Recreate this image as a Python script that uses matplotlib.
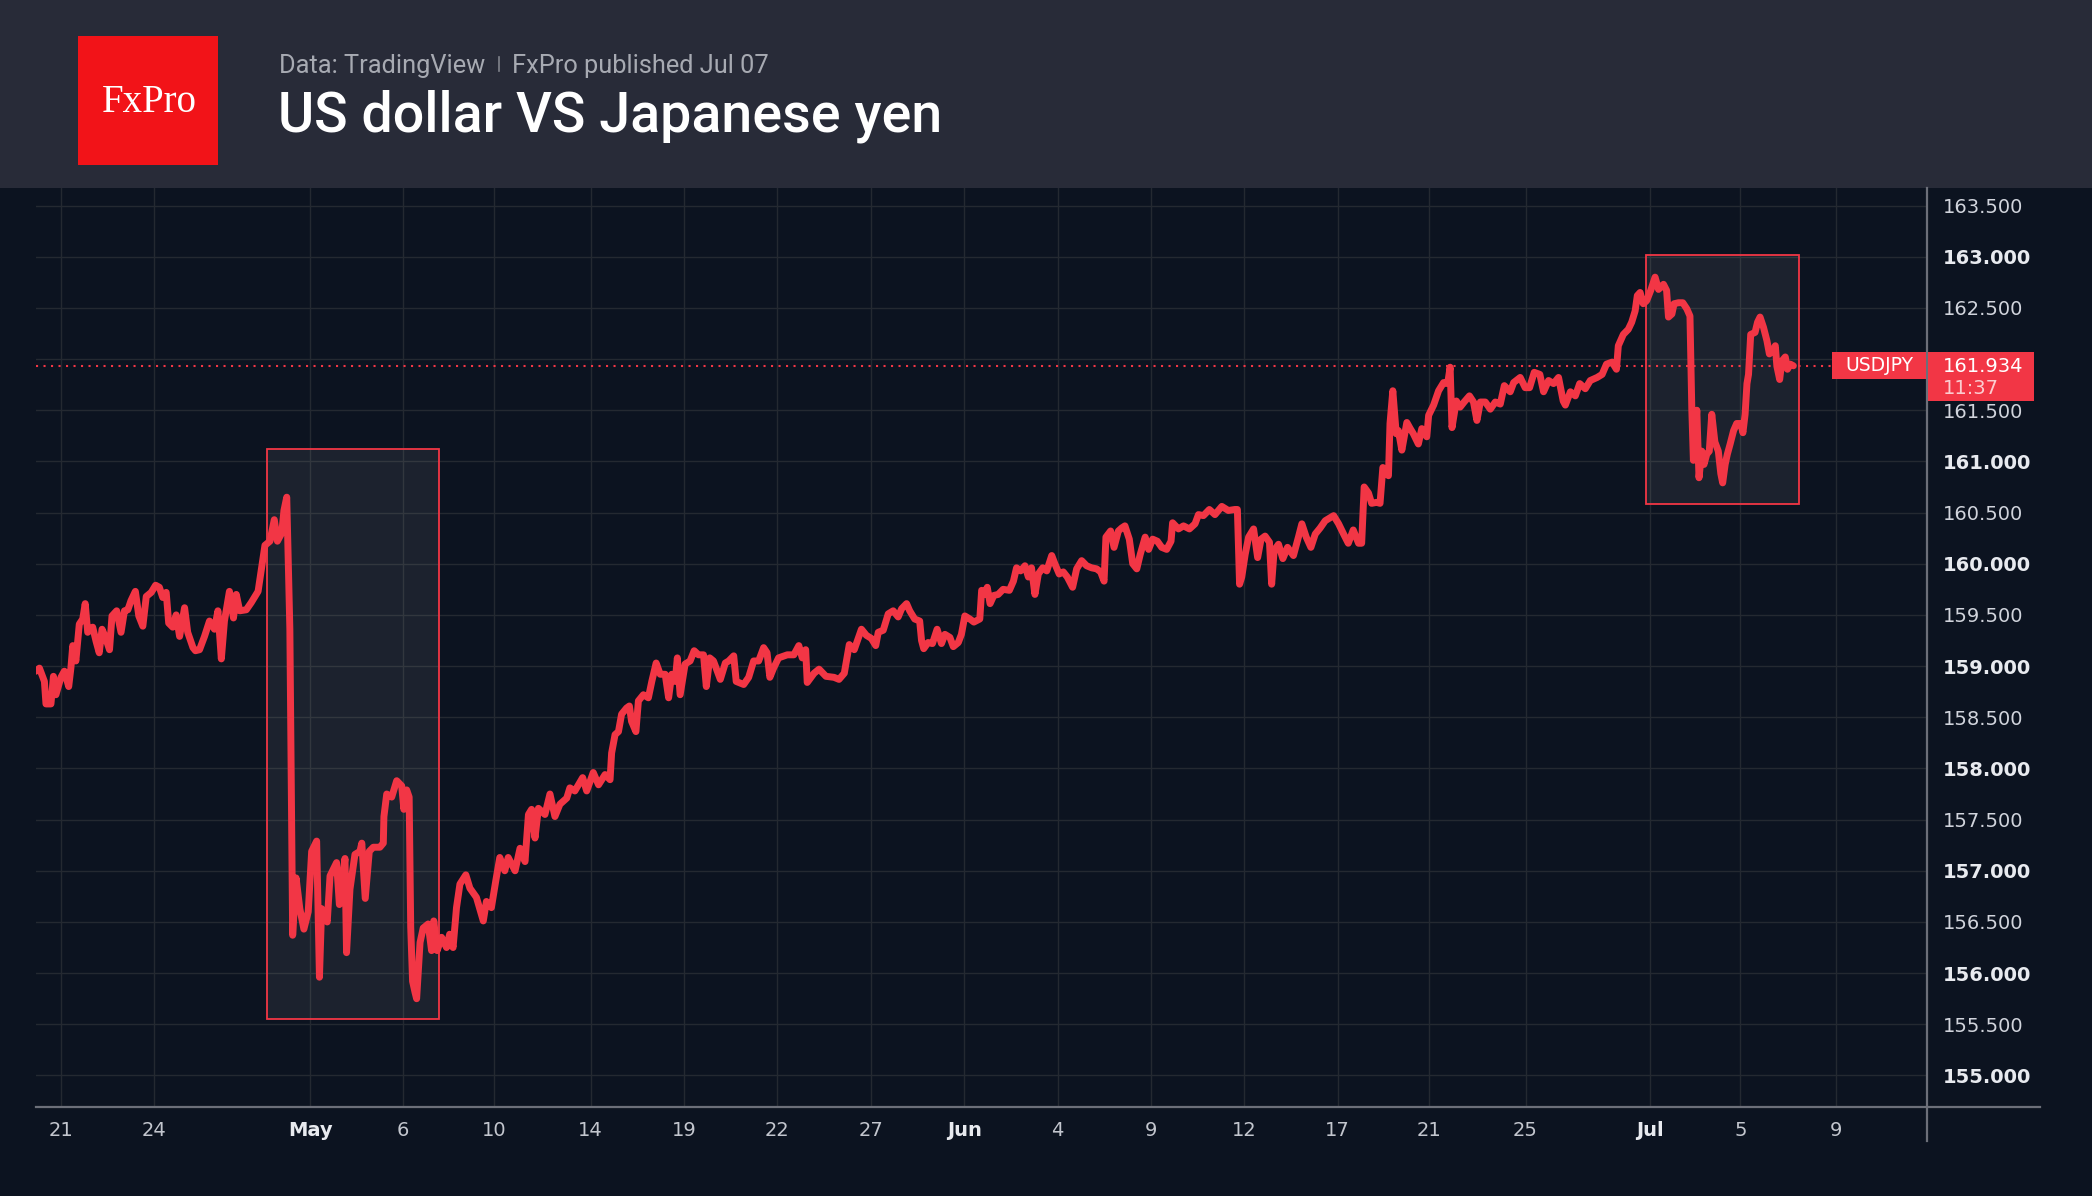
import numpy as np
import matplotlib.pyplot as plt
from matplotlib.patches import Rectangle
from matplotlib.lines import Line2D

W, H = 2092, 1196

###############################################################################
# Data: USDJPY, x = trading-day index (weekends skipped), 0 = Apr 21
###############################################################################
t = [-0.77, -0.66, -0.50, -0.45, -0.29, -0.21, -0.13, 0.03, 0.14, 0.28,
     0.35, 0.41, 0.51, 0.62, 0.73, 0.81, 0.89, 1.05, 1.16, 1.26,
     1.35, 1.46, 1.59, 1.67, 1.82, 1.96, 2.07, 2.18, 2.28, 2.42,
     2.53, 2.66, 2.77, 2.93, 3.07, 3.19, 3.30, 3.41, 3.49, 3.62,
     3.73, 3.84, 4.00, 4.10, 4.27, 4.35, 4.48, 4.64, 4.80, 4.96,
     5.07, 5.18, 5.28, 5.44, 5.57, 5.66, 5.77, 5.98, 6.14, 6.36,
     # late April spike and the intervention drop
     6.58, 6.74, 6.88, 6.98, 7.12, 7.19, 7.28, 7.38, 7.47, 7.58,
     7.70, 7.83, 7.97, 8.08, 8.24, 8.33, 8.40, 8.58, 8.67, 8.88,
     8.97, 9.15, 9.20, 9.31, 9.47, 9.63, 9.69, 9.80, 9.93, 10.06,
     10.27, 10.38, 10.40, 10.49, 10.65, 10.81, 10.97, 11.04, 11.13, 11.21,
     11.26, 11.32, 11.40, 11.45, 11.56,
     # May recovery
     11.66, 11.82, 11.93, 12.00, 12.11, 12.25, 12.41, 12.51, 12.62, 12.73,
     12.84, 13.03, 13.16, 13.37, 13.53, 13.59, 13.69, 13.85, 13.99, 14.12,
     14.28, 14.39, 14.61, 14.77, 14.93, 15.04, 15.14, 15.25, 15.36, 15.57,
     15.73, 15.89, 16.05, 16.27, 16.37, 16.53, 16.78, 16.91, 17.12, 17.29,
     17.50, 17.66, 17.71, 17.82, 17.93, 18.03, 18.19, 18.28, 18.35, 18.49,
     18.57, 18.73, 18.89, 19.00, 19.14, 19.27, 19.43, 19.54, 19.64, 19.75,
     19.82, 19.91, 20.07, 20.23, 20.36, 20.50, 20.66, 20.75, 20.86, 20.98,
     21.20, 21.36, 21.47, 21.63, 21.71, 21.95, 22.11, 22.27, 22.43, 22.59,
     22.70, 22.79, 22.91, 23.07, 23.35, 23.56, 23.72, 23.83, 23.94, 23.99,
     24.21, 24.37, 24.59, 24.85, 25.01, 25.18, 25.34, 25.50,
     # late May - mid June
     25.73, 25.89, 26.05, 26.19, 26.27, 26.43, 26.59, 26.75, 26.91, 27.02,
     27.18, 27.28, 27.44, 27.60, 27.66, 27.73, 27.87, 28.01, 28.16, 28.30,
     28.41, 28.57, 28.68, 28.84, 28.94, 29.05, 29.21, 29.34, 29.53, 29.59,
     29.69, 29.77, 29.86, 29.98, 30.12, 30.28, 30.48, 30.61, 30.71, 30.84,
     30.98, 31.09, 31.19, 31.30, 31.41, 31.55, 31.68, 31.84, 31.94, 32.08,
     32.21, 32.34, 32.51, 32.64, 32.80, 32.96, 33.12, 33.28, 33.41, 33.52,
     33.58, 33.73, 33.84, 33.98, 34.09, 34.19, 34.33, 34.44, 34.57, 34.68,
     34.84, 34.95, 35.08, 35.23, 35.37, 35.53, 35.67, 35.72, 35.91, 36.07,
     36.26, 36.44, 36.55, 36.71, 36.90, 37.08, 37.30, 37.51, 37.72, 37.80,
     37.87, 37.94, 38.05, 38.16, 38.32, 38.45, 38.56, 38.69, 38.83, 38.90,
     38.98, 39.12, 39.26, 39.41, 39.60, 39.76, 39.87, 40.01, 40.16, 40.30,
     40.46, 40.62, 40.89, 41.05, 41.21,
     # mid June - end of June
     41.36, 41.52, 41.69, 41.79, 41.87, 42.01, 42.11, 42.27, 42.38, 42.47,
     42.65, 42.70, 42.79, 42.90, 42.97, 43.08, 43.24, 43.35, 43.45, 43.61,
     43.72, 43.88, 43.94, 44.10, 44.26, 44.42, 44.55, 44.63, 44.69, 44.83,
     44.95, 45.08, 45.25, 45.38, 45.49, 45.60, 45.76, 45.92, 46.08, 46.24,
     46.37, 46.56, 46.67, 46.88, 47.04, 47.18, 47.33, 47.51, 47.63, 47.79,
     47.95, 48.11, 48.26, 48.33, 48.49, 48.65, 48.79, 48.97, 49.13, 49.35,
     49.51, 49.65, 49.83, 49.97,
     # July
     50.03, 50.19, 50.35, 50.46, 50.57, 50.64, 50.73, 50.83, 50.94, 51.07,
     51.21, 51.32, 51.48, 51.58, 51.64, 51.75, 51.82, 51.96, 52.10, 52.23,
     52.33, 52.39, 52.44, 52.55, 52.62, 52.71, 52.78, 52.87, 52.95, 53.03,
     53.13, 53.24, 53.32, 53.38, 53.46, 53.53, 53.62, 53.73, 53.83, 53.96,
     54.03, 54.10, 54.16, 54.21, 54.28, 54.42, 54.50, 54.58, 54.69, 54.80,
     54.88, 54.99, 55.07, 55.12, 55.21, 55.28, 55.39, 55.46, 55.55, 55.65]

usdjpy = [158.95, 158.98, 158.85, 158.63, 158.63, 158.90, 158.72, 158.89, 158.95, 158.80,
          158.98, 159.20, 159.05, 159.41, 159.46, 159.61, 159.33, 159.38, 159.24, 159.13,
          159.36, 159.28, 159.16, 159.49, 159.54, 159.33, 159.54, 159.55, 159.64, 159.73,
          159.49, 159.39, 159.68, 159.72, 159.79, 159.77, 159.67, 159.72, 159.42, 159.38,
          159.50, 159.29, 159.57, 159.33, 159.18, 159.15, 159.16, 159.29, 159.44, 159.36,
          159.54, 159.07, 159.44, 159.73, 159.47, 159.70, 159.54, 159.55, 159.62, 159.73,
          160.18, 160.22, 160.43, 160.22, 160.30, 160.52, 160.65, 159.36, 156.37, 156.93,
          156.63, 156.43, 156.60, 157.19, 157.29, 155.96, 156.63, 156.50, 156.95, 157.08,
          156.67, 157.12, 156.20, 156.82, 157.16, 157.19, 157.27, 156.73, 157.19, 157.23,
          157.23, 157.27, 157.53, 157.75, 157.72, 157.88, 157.83, 157.60, 157.79, 157.72,
          156.45, 155.92, 155.81, 155.75, 156.30,
          156.44, 156.48, 156.22, 156.51, 156.22, 156.35, 156.25, 156.38, 156.25, 156.64,
          156.87, 156.96, 156.83, 156.74, 156.57, 156.51, 156.70, 156.64, 156.90, 157.13,
          157.00, 157.13, 157.00, 157.22, 157.09, 157.55, 157.60, 157.32, 157.61, 157.55,
          157.75, 157.53, 157.65, 157.71, 157.81, 157.78, 157.91, 157.78, 157.96, 157.84,
          157.94, 157.89, 158.15, 158.33, 158.36, 158.53, 158.59, 158.61, 158.46, 158.36,
          158.66, 158.72, 158.69, 158.85, 159.03, 158.92, 158.92, 158.69, 158.92, 158.85,
          159.08, 158.72, 159.02, 159.05, 159.15, 159.11, 159.11, 158.80, 159.08, 159.05,
          158.87, 159.03, 159.05, 159.10, 158.85, 158.82, 158.89, 159.05, 159.05, 159.18,
          159.13, 158.89, 158.98, 159.08, 159.11, 159.11, 159.20, 159.08, 159.16, 158.84,
          158.93, 158.97, 158.90, 158.89, 158.87, 158.93, 159.21, 159.16,
          159.36, 159.30, 159.27, 159.20, 159.33, 159.35, 159.51, 159.54, 159.48, 159.56,
          159.61, 159.54, 159.46, 159.44, 159.25, 159.17, 159.23, 159.22, 159.36, 159.22,
          159.31, 159.28, 159.19, 159.23, 159.31, 159.49, 159.46, 159.43, 159.46, 159.74,
          159.70, 159.77, 159.61, 159.69, 159.70, 159.75, 159.74, 159.83, 159.96, 159.93,
          159.98, 159.87, 159.96, 159.70, 159.90, 159.96, 159.93, 160.08, 160.00, 159.90,
          159.92, 159.87, 159.77, 159.95, 160.03, 159.98, 159.96, 159.95, 159.92, 159.83,
          160.26, 160.32, 160.16, 160.32, 160.35, 160.37, 160.24, 160.00, 159.95, 160.09,
          160.26, 160.14, 160.24, 160.22, 160.16, 160.14, 160.22, 160.40, 160.34, 160.37,
          160.34, 160.39, 160.48, 160.47, 160.53, 160.48, 160.56, 160.52, 160.53, 160.53,
          159.80, 159.87, 160.09, 160.26, 160.34, 160.06, 160.24, 160.27, 160.21, 159.80,
          160.13, 160.19, 160.05, 160.16, 160.08, 160.26, 160.39, 160.26, 160.16, 160.29,
          160.35, 160.42, 160.47, 160.39, 160.29,
          160.20, 160.33, 160.20, 160.20, 160.75, 160.69, 160.59, 160.60, 160.59, 160.94,
          160.86, 161.37, 161.69, 161.27, 161.30, 161.11, 161.38, 161.32, 161.27, 161.17,
          161.32, 161.24, 161.45, 161.55, 161.69, 161.77, 161.76, 161.92, 161.33, 161.59,
          161.53, 161.58, 161.64, 161.58, 161.40, 161.58, 161.58, 161.51, 161.58, 161.56,
          161.74, 161.68, 161.77, 161.82, 161.72, 161.72, 161.87, 161.85, 161.68, 161.79,
          161.76, 161.82, 161.59, 161.55, 161.68, 161.64, 161.76, 161.71, 161.79, 161.82,
          161.85, 161.95, 161.97, 161.90,
          162.13, 162.24, 162.29, 162.36, 162.47, 162.62, 162.65, 162.54, 162.57, 162.67,
          162.80, 162.68, 162.73, 162.67, 162.41, 162.44, 162.54, 162.55, 162.55, 162.49,
          162.42, 161.50, 161.01, 161.50, 160.84, 161.10, 160.97, 161.07, 161.10, 161.46,
          161.19, 161.10, 160.88, 160.79, 160.97, 161.07, 161.17, 161.30, 161.37, 161.37,
          161.28, 161.46, 161.76, 161.85, 162.24, 162.26, 162.36, 162.41, 162.31, 162.18,
          162.05, 162.08, 162.13, 161.93, 161.80, 161.98, 162.02, 161.90, 161.95, 161.934]

symbol = 'USDJPY'
last_price = 161.934
last_time = '11:37'

xtick_pos = [0.02, 3.02, 8.03, 11.02, 13.93, 17.04, 20.03, 23.03, 26.03, 29.03,
             32.03, 35.02, 38.02, 41.02, 43.95, 47.05, 51.04, 53.95, 57.01]
xtick_lab = ['21', '24', 'May', '6', '10', '14', '19', '22', '27', 'Jun',
             '4', '9', '12', '17', '21', '25', 'Jul', '5', '9']
months = ['May', 'Jun', 'Jul']
yticks = np.arange(155.0, 163.51, 0.5)

# highlighted ranges: (t start, t end, low, high)
boxes = [(6.66, 12.18, 155.55, 161.12),
         (50.92, 55.84, 160.58, 163.02)]

###############################################################################
# Style
###############################################################################
BG = '#0c1320'
HEAD = '#282b38'
RED = '#f23645'
LOGO = '#f21318'
GRID = '#242931'
AXC = '#6c6f79'


def fx(px):
    return px / W


def fy(py):
    return 1 - py / H


fig = plt.figure(figsize=(W / 100, H / 100), dpi=100, facecolor=BG)

# header band + logo
fig.add_artist(Rectangle((0, fy(188)), 1, 188 / H, transform=fig.transFigure,
                         facecolor=HEAD, edgecolor='none', zorder=0))
fig.add_artist(Rectangle((fx(78), fy(165)), fx(218) - fx(78), (165 - 36) / H,
                         transform=fig.transFigure, facecolor=LOGO,
                         edgecolor='none', zorder=1))
fig.text(fx(149), fy(111.5), 'FxPro', family='Liberation Serif', size=28,
         color='white', ha='center', va='baseline')

sub_col = '#a7aab2'
fig.text(fx(279), fy(72.7), 'Data: TradingView', family='Roboto', size=18.3,
         color=sub_col, va='baseline')
fig.add_artist(Line2D([fx(499), fx(499)], [fy(57), fy(71)], transform=fig.transFigure,
                      color='#80838c', lw=1.2))
fig.text(fx(512), fy(72.7), 'FxPro published Jul 07', family='Roboto', size=18.3,
         color=sub_col, va='baseline')
fig.text(fx(278), fy(131.7), 'US dollar VS Japanese yen', family='Roboto', size=40,
         weight='medium', color='white', va='baseline')

###############################################################################
# Chart
###############################################################################
ax = fig.add_axes([fx(36), 89 / H, (1927 - 36) / W, (1107 - 188) / H])
ax.set_facecolor(BG)
for s in ax.spines.values():
    s.set_visible(False)
ax.set_xlim(-0.77, 59.94)
ax.set_ylim(154.692, 163.671)

ax.grid(True, color=GRID, lw=1.0)
ax.set_axisbelow(True)

for a, b, lo, hi in boxes:
    ax.add_patch(Rectangle((a, lo), b - a, hi - lo, facecolor=(1, 1, 1, 0.065),
                           edgecolor=RED, lw=1.3, zorder=2))

ax.axhline(last_price, color=RED, lw=1.5, ls=(0, (1, 2.6)), zorder=3)
ax.plot(t, usdjpy, color=RED, lw=5.0, solid_joinstyle='round',
        solid_capstyle='round', zorder=4)

ax.yaxis.tick_right()
ax.set_yticks(yticks)
# the level hidden under the last-price tag is left blank
ax.set_yticklabels(['' if abs(v - last_price) < 0.15 else f'{v:.3f}' for v in yticks])
ax.tick_params(axis='y', length=0, pad=11.5, labelsize=14, labelcolor='#d1d4dc')
for lab, v in zip(ax.get_yticklabels(), yticks):
    if v == int(v):
        lab.set_fontweight('bold')
        lab.set_color('#e8eaef')

ax.set_xticks(xtick_pos)
ax.set_xticklabels(xtick_lab)
ax.tick_params(axis='x', length=0, pad=10, labelsize=14, labelcolor='#c3c6ce')
for lab in ax.get_xticklabels():
    if lab.get_text() in months:
        lab.set_fontweight('bold')
        lab.set_color('#e8eaef')

# axis lines
fig.add_artist(Line2D([fx(36), fx(2040)], [fy(1107), fy(1107)], transform=fig.transFigure,
                      color=AXC, lw=1.6, zorder=3))
fig.add_artist(Line2D([fx(1927), fx(1927)], [fy(188), fy(1141)], transform=fig.transFigure,
                      color=AXC, lw=1.6, zorder=3))

# last price tags
yt = H - ax.transData.transform((0, last_price))[1]
fig.add_artist(Rectangle((fx(1832), fy(yt + 13.5)), fx(1926) - fx(1832), 27 / H,
                         transform=fig.transFigure, facecolor=RED, edgecolor='none', zorder=5))
fig.text(fx(1879), fy(yt), symbol, ha='center', va='center', size=13.5,
         color='white', zorder=6)
fig.add_artist(Rectangle((fx(1928), fy(yt + 35.5)), fx(2034) - fx(1928), 49 / H,
                         transform=fig.transFigure, facecolor=RED, edgecolor='none', zorder=5))
fig.text(fx(1943), fy(yt + 6.5), f'{last_price:.3f}', va='baseline', size=14,
         color='white', zorder=6)
fig.text(fx(1943), fy(yt + 28.5), last_time, va='baseline', size=14,
         color=(1, 1, 1, 0.75), zorder=6)

fig.savefig('out.png', dpi=100, facecolor=BG)
